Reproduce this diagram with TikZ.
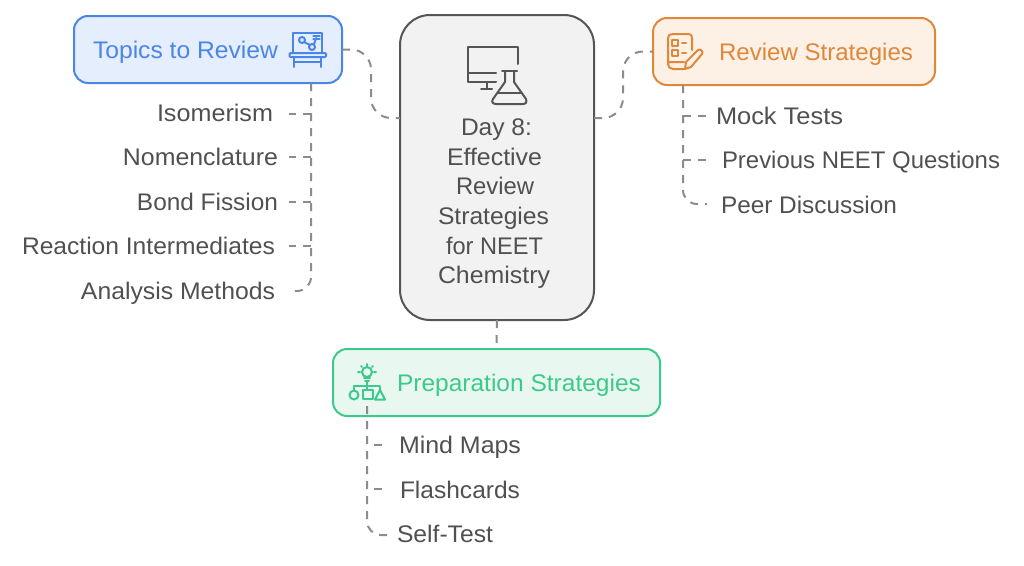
\documentclass[tikz,border=0pt]{standalone}
\usepackage{fontspec}
\usepackage{graphicx}
\setmainfont{Liberation Sans}
\newcommand{\fw}[2]{\resizebox{#1pt}{\height}{#2}}
\definecolor{txt}{HTML}{505050}
\definecolor{conn}{HTML}{8C8C8C}
\definecolor{bl}{HTML}{4A86E8}
\definecolor{blf}{HTML}{E5EEFD}
\definecolor{or}{HTML}{E0873A}
\definecolor{orf}{HTML}{FDF1E5}
\definecolor{gr}{HTML}{3CC98A}
\definecolor{grf}{HTML}{E8F8F1}
\definecolor{cen}{HTML}{555555}
\definecolor{cenf}{HTML}{F2F2F2}
\tikzset{
 boxn/.style={draw,line width=2pt,rounded corners=14pt,outer sep=0pt,inner sep=0pt},
 lab/.style={text=txt,font=\fontsize{24}{28}\selectfont,inner sep=0pt,outer sep=0pt},
 lr/.style={lab,anchor=base east},
 ll/.style={lab,anchor=base west},
 lc/.style={lab,anchor=base},
 head/.style={font=\fontsize{24}{28}\selectfont,inner sep=0pt,outer sep=0pt,anchor=base west},
 link/.style={draw=conn,line width=2pt,dash pattern=on 8pt off 7pt,rounded corners=14pt},
 mainlink/.style={link,rounded corners=20pt},
 ico/.style={line width=2pt,line cap=round,line join=round},
}
\begin{document}
\begin{tikzpicture}[x=1pt,y=-1pt]
\useasboundingbox (0,0) rectangle (1024,565);
% boxes
\node[boxn,draw=bl,fill=blf,minimum width=268pt,minimum height=67pt] (topics) at (208,49.5) {};
\node[boxn,draw=or,fill=orf,minimum width=282pt,minimum height=67pt] (review) at (794,51.5) {};
\node[boxn,draw=gr,fill=grf,minimum width=327pt,minimum height=67pt] (prep) at (496.5,382.5) {};
\node[boxn,draw=cen,fill=cenf,rounded corners=30pt,minimum width=194pt,minimum height=305pt] (center) at (497,167.5) {};
% headings
\node[head,text=bl] (topicsT) at (93,58) {\fw{185}{Topics to Review}};
\node[head,text=or] (reviewT) at (719,60) {\fw{194}{Review Strategies}};
\node[head,text=gr] (prepT) at (397,391) {\fw{244}{Preparation Strategies}};
% centre text
\node[lc] (c1) at (496.5,135) {\fw{71}{Day 8:}};
\node[lc] (c2) at (494.5,165) {\fw{95}{Effective}};
\node[lc] (c3) at (495,194) {\fw{78}{Review}};
\node[lc] (c4) at (493.5,224) {\fw{111}{Strategies}};
\node[lc] (c5) at (494.5,254) {\fw{97}{for NEET}};
\node[lc] (c6) at (494,283) {\fw{112}{Chemistry}};
% left labels
\node[lr] (t1) at (273,121) {\fw{116}{Isomerism}};
\node[lr] (t2) at (278,165) {\fw{155}{Nomenclature}};
\node[lr] (t3) at (278,210) {\fw{141}{Bond Fission}};
\node[lr] (t4) at (275,254) {\fw{253}{Reaction Intermediates}};
\node[lr] (t5) at (275,299) {\fw{194}{Analysis Methods}};
% right labels
\node[ll] (r1) at (716,124) {\fw{127}{Mock Tests}};
\node[ll] (r2) at (722,168) {\fw{278}{Previous NEET Questions}};
\node[ll] (r3) at (721,213) {\fw{176}{Peer Discussion}};
% bottom labels
\node[ll] (p1) at (399,453) {\fw{122}{Mind Maps}};
\node[ll] (p2) at (400,498) {\fw{120}{Flashcards}};
\node[ll] (p3) at (397,542) {\fw{96}{Self-Test}};
% coordinates
\coordinate (cl) at (400,118);
\coordinate (cr) at (594,118);
\coordinate (tj) at (311,83);
\coordinate (rj) at (683,85);
\coordinate (pj) at (367,406);
% main links
\path[mainlink] (topics.east) -- (371,49.5) -- (371,118) -- (cl);
\path[mainlink] (cr) -- (623,118) -- (623,51.5) -- (review.west);
\path[link] (center.south) -- (prep.north);
% left stem
\path[link] (tj) -- (311,291) -- (288,291);
\path[link] (311,114) -- (289,114);
\path[link] (311,157) -- (289,157);
\path[link] (311,202) -- (289,202);
\path[link] (311,246) -- (289,246);
% right stem
\path[link] (rj) -- (683,204) -- (707,204);
\path[link] (683,115.5) -- (706,115.5);
\path[link] (683,160) -- (706,160);
% bottom stem
\path[link] (pj) -- (367,535) -- (387,535);
\path[link] (382,445) -- (373,445);
\path[link] (382,489) -- (373,489);
% Topics icon
\begin{scope}[ico,draw=bl]
\draw[bl] (293,53) -- (293,33) -- (322,33) -- (322,53);
\draw[bl,rounded corners=1pt] (289.5,53) rectangle (326,57);
\draw[bl] (294,57) -- (294,67) (321,57) -- (321,67) (294,62) -- (321,62);
\draw[bl] (302,40) circle (3) (312,47) circle (3) (304,42) -- (310,45) (314,44.5) -- (316,38);
\draw[bl,line width=1.2pt] (313,36) -- (320,36) (313,39) -- (320,39);
\end{scope}
% Review icon
\begin{scope}[ico,draw=or]
\draw[or] (692,50) -- (692,38) .. controls (692,35) and (691,34) .. (688,34) -- (673,34) .. controls (670,34) and (668,35) .. (668,38) -- (668,64) .. controls (668,67) and (670,69) .. (673,69) -- (684,69);
\draw[or] (668,63) .. controls (669,62) and (670,62) .. (672,62) -- (684,62);
\draw[or] (672,40) rectangle (678,46) (672,50) rectangle (678,56);
\draw[or] (682,43) -- (686,43) (682,53) -- (686,53);
\draw[or] (685,69) -- (686,62) -- (698,50) .. controls (700,48) and (704,52) .. (702,54) -- (691,67) -- cycle;
\end{scope}
% Prep icon
\begin{scope}[ico]
\draw[gr] (367,372) circle (5);
\draw[gr] (364,378) -- (370,378) (365,381) -- (369,381);
\draw[gr] (367,364) -- (367,366) (358,372) -- (360,372) (374,372) -- (376,372) (361,366) -- (362,367) (373,366) -- (372,367);
\draw[gr] (367,381) -- (367,390) (354,390) -- (354,386) -- (380,386) -- (380,390);
\draw[gr] (354,395) circle (4.5);
\draw[gr] (363,390) rectangle (373,399);
\draw[gr] (375,399.5) -- (380,390) -- (385,399.5) -- cycle;
\end{scope}
% Centre icon
\begin{scope}[ico]
\draw[cen] (518,64) -- (518,47) -- (468,47) -- (468,82) -- (496,82);
\draw[cen] (468,73) -- (496,73);
\draw[cen] (487,82) -- (487,89) (481,89) -- (492,89);
\draw[cen] (502,71) -- (517,71);
\draw[cen] (505,71) -- (505,82) -- (493,99) .. controls (491,102) and (493,104) .. (496,104) -- (523,104) .. controls (526,104) and (527,102) .. (526,99) -- (514,82) -- (514,71);
\draw[cen] (498,93) -- (521,93);
\end{scope}
\end{tikzpicture}
\end{document}
